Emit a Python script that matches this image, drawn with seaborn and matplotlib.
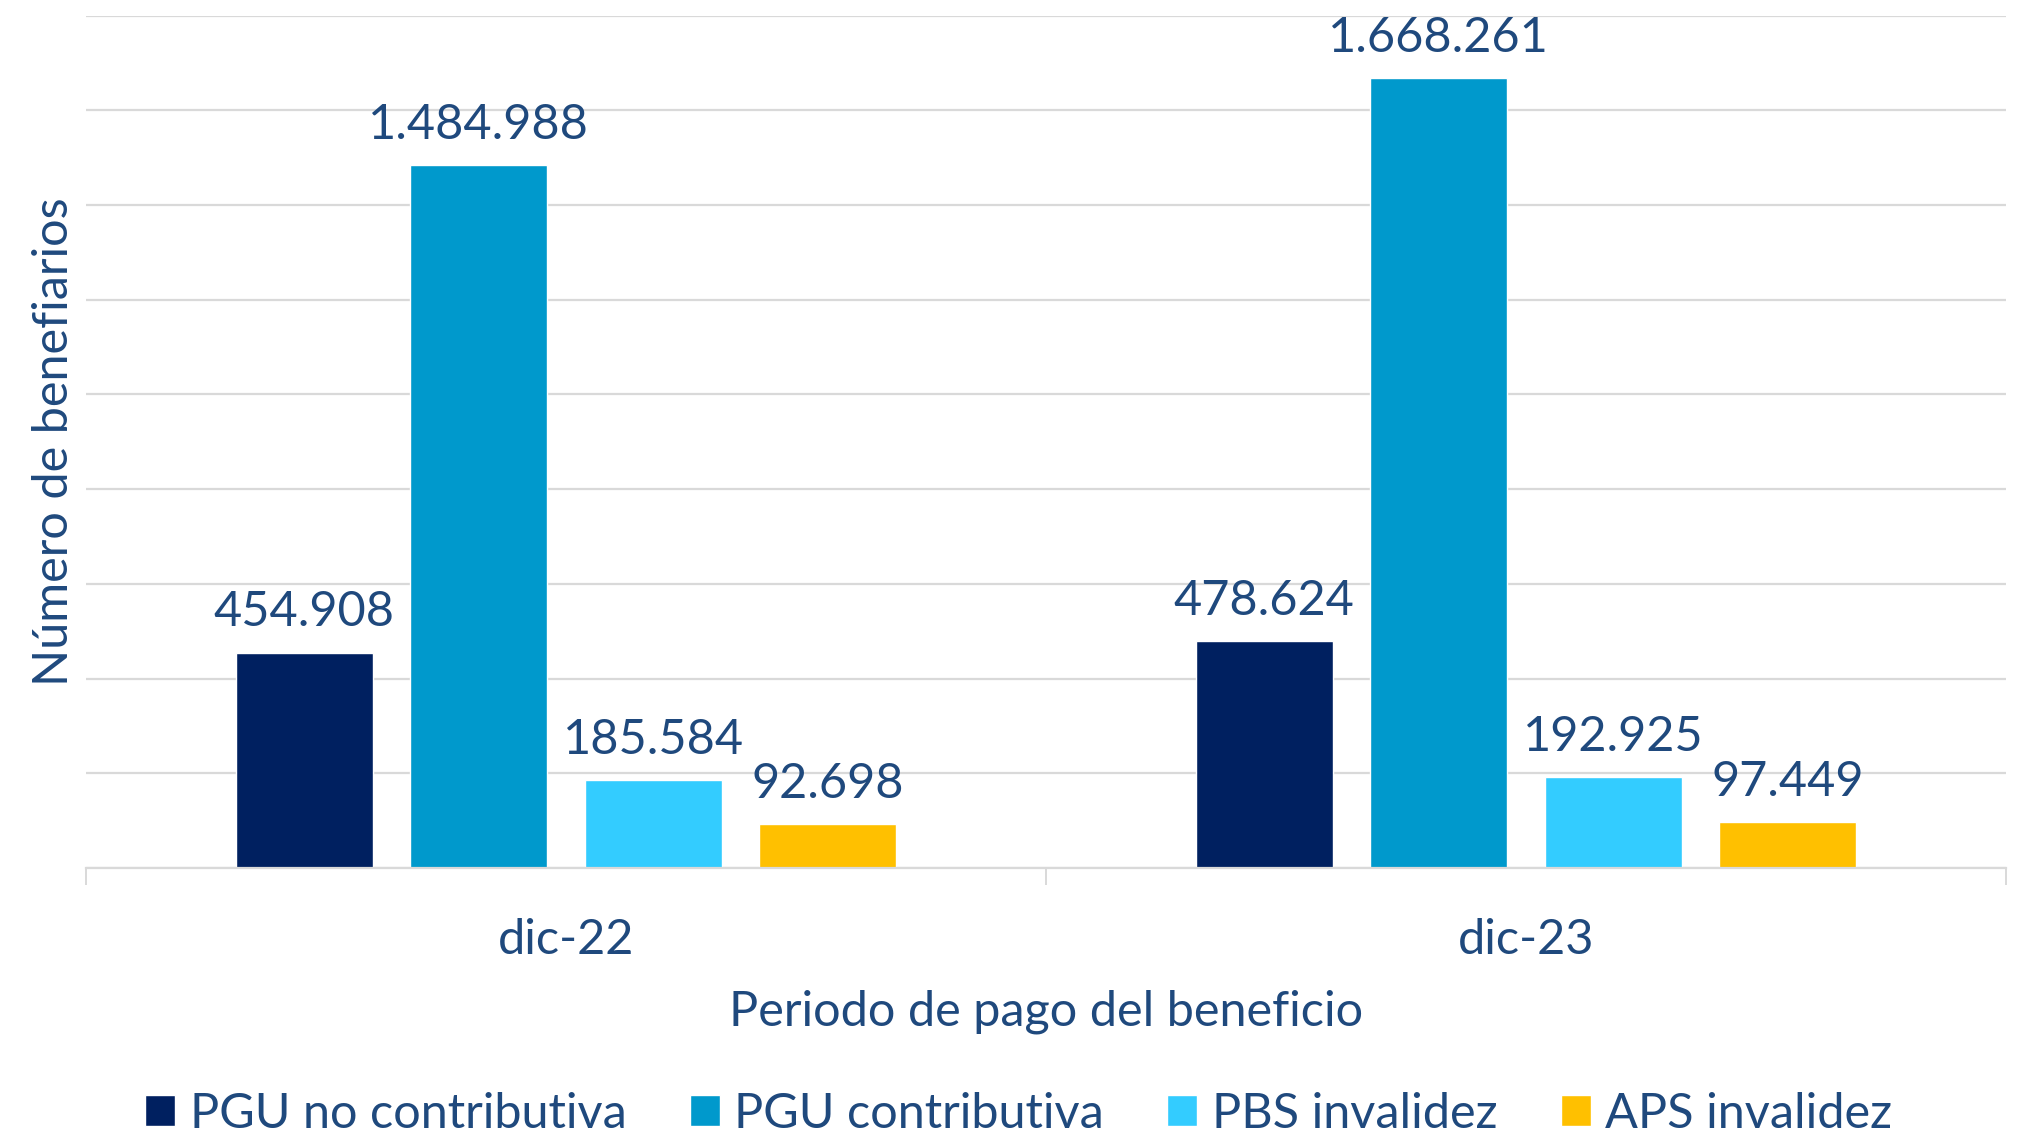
import pandas as pd
import matplotlib.pyplot as plt
import seaborn as sns

periodos = ["dic-22", "dic-23"]
series = ["PGU no contributiva", "PGU contributiva", "PBS invalidez", "APS invalidez"]
pgu_no_contrib = [454908, 478624]
pgu_contrib = [1484988, 1668261]
pbs_invalidez = [185584, 192925]
aps_invalidez = [92698, 97449]
colores = ["#002060", "#0099CC", "#33CCFF", "#FFC000"]

sns.set_theme(style="white")
plt.rcParams["font.family"] = ["Lato", "DejaVu Sans"]
texto = "#1F497D"
fs = 35

rows = []
for s, vals in zip(series, [pgu_no_contrib, pgu_contrib, pbs_invalidez, aps_invalidez]):
    for p, v in zip(periodos, vals):
        rows.append({"periodo": p, "serie": s, "valor": v})
df = pd.DataFrame(rows)

fig = plt.figure(figsize=(20.25, 11.34), dpi=100)
ax = fig.add_axes([0.0425, 0.2346, 0.948, 0.7517])

sns.barplot(data=df, x="periodo", y="valor", hue="serie", order=periodos,
            hue_order=series, palette=colores, width=0.727, gap=0.215,
            saturation=1, ax=ax, legend=True)

for cont in ax.containers:
    ax.bar_label(cont, labels=[f"{int(b.get_height()):,}".replace(",", ".") for b in cont],
                 padding=13, fontsize=fs, color=texto)

ax.set_xlim(-0.5, 1.5)
ax.set_ylim(0, 1800000)
ax.set_yticks(range(0, 1800001, 200000))
ax.set_yticklabels([])
ax.yaxis.grid(True, color="#D9D9D9", linewidth=1.6)
ax.set_axisbelow(True)
for side in ["left", "right", "top"]:
    ax.spines[side].set_visible(False)
ax.spines["bottom"].set_color("#D9D9D9")
ax.spines["bottom"].set_linewidth(1.6)
ax.set_xticks([-0.5, 0.5, 1.5], minor=True)
ax.tick_params(axis="x", which="minor", bottom=True, length=12, color="#D9D9D9", width=1.4)
ax.tick_params(axis="x", which="major", length=0, pad=36, labelsize=fs, labelcolor=texto)
ax.tick_params(axis="y", length=0)

ax.set_xlabel("Periodo de pago del beneficio", fontsize=fs, color=texto, labelpad=20)
ax.set_ylabel("Número de benefiarios", fontsize=fs, color=texto, labelpad=4)

handles, labels = ax.get_legend_handles_labels()
ax.get_legend().remove()
fig.legend(handles, labels, loc="center", bbox_to_anchor=(0.503, 0.018), ncol=4,
           frameon=False, fontsize=fs, labelcolor=texto, handlelength=0.62,
           handleheight=0.62, handletextpad=0.3, columnspacing=1.3)

fig.savefig("out.png", dpi=100)
